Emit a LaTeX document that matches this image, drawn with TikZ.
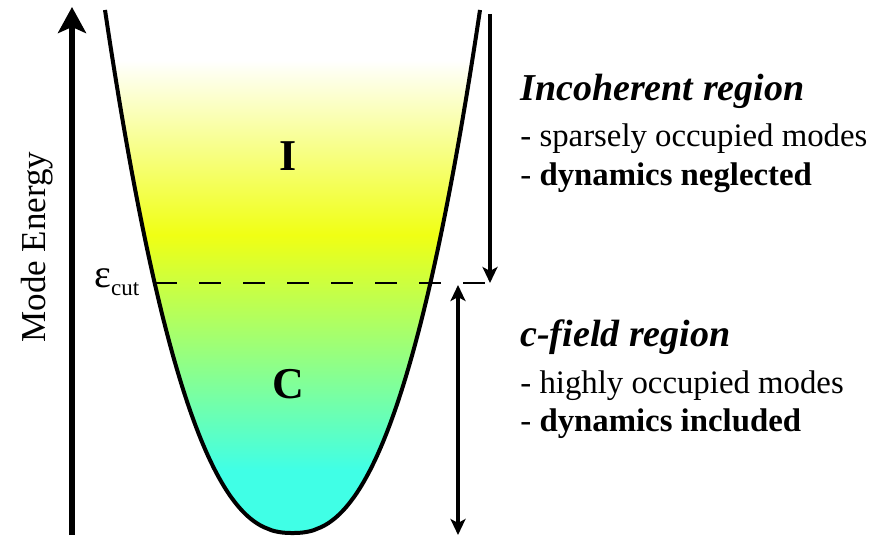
\documentclass[tikz,border=0pt]{standalone}
\usepackage{fontspec}
\setmainfont{Liberation Serif}
\usetikzlibrary{arrows.meta,positioning}
\definecolor{fillyellow}{RGB}{240,255,20}
\definecolor{fillcyan}{RGB}{64,255,230}
\pgfdeclareverticalshading{modefill}{100bp}{color(0bp)=(fillcyan); color(31bp)=(fillcyan); color(53.5bp)=(fillyellow); color(70.2bp)=(white); color(100bp)=(white)}

\begin{document}
\begin{tikzpicture}[
  x=0.5pt,
  y=-0.5pt,
  axis/.style={line width=2.8pt, -{Stealth[length=13pt,width=14pt,inset=3pt]}},
  bowl/.style={line width=2pt, shade, shading=modefill},
  cutline/.style={line width=1.2pt, dash pattern=on 11pt off 11pt},
  spanline/.style={line width=1.7pt},
  regtip/.tip={Stealth[length=8pt,width=7.5pt,inset=2pt]},
  title/.style={font=\fontsize{19}{22}\selectfont\bfseries\itshape, anchor=base west, inner sep=0pt},
  item/.style={font=\fontsize{16.4}{20}\selectfont, anchor=base west, inner sep=0pt},
  region/.style={font=\fontsize{22}{24}\selectfont\bfseries}
]
\useasboundingbox (0,0) rectangle (876,535);

\draw[bowl] plot[smooth, domain=-187.5:187.5, samples=100] ({292.5+\x},{533-523*(abs(\x)/187.5)^2.4});

\coordinate (ax0) at (72,535);
\coordinate (ax1) at (72,7);
\draw[axis] (ax0) -- (ax1);
\node[font=\fontsize{17.5}{20}\selectfont, rotate=90, anchor=base, inner sep=0pt] (ylab) at (45,247) {Mode Energy};

\coordinate (cutL) at (155,283);
\coordinate (cutR) at (490,283);
\coordinate (upT) at (490,14);
\coordinate (lowT) at (458,285);
\coordinate (lowB) at (458,535);
\draw[cutline] (cutL) -- (cutR);
\draw[spanline, -regtip] (upT) -- (cutR);
\draw[spanline, regtip-regtip] (lowT) -- (lowB);
\node[anchor=base west, inner sep=0pt] (ecut) at (94,287) {\fontsize{20}{20}\selectfont ε\raisebox{-4pt}{\fontsize{11.5}{12}\selectfont cut}};

\node[region] (regI) at (288,156) {I};
\node[region] (regC) at (288,384) {C};

\node[title] (inctitle) at (520,100) {Incoherent region};
\node[item] (inc1) at (520,146) {- sparsely occupied modes};
\node[item] (inc2) at (520,185) {- \textbf{dynamics neglected}};

\node[title] (cftitle) at (520,346) {c-field region};
\node[item] (cf1) at (520,393) {- highly occupied modes};
\node[item] (cf2) at (520,431) {- \textbf{dynamics included}};
\end{tikzpicture}
\end{document}
